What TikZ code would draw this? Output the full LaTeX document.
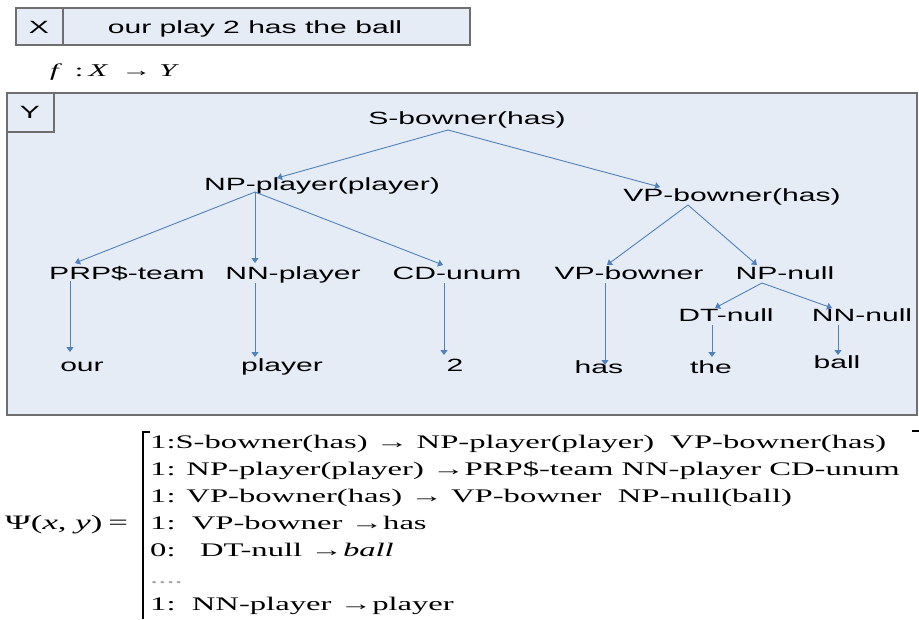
\documentclass[tikz,border=0pt]{standalone}
\usepackage{fontspec}
\setmainfont{Liberation Sans}
\newfontfamily\tnr{Liberation Serif}
\usepackage{graphicx}
\usetikzlibrary{arrows.meta}
\definecolor{boxfill}{HTML}{E6ECF6}
\definecolor{boxline}{HTML}{6E6E6E}
\definecolor{arr}{HTML}{4F81BD}
\newcommand\sx[1]{\scalebox{1.7}[1]{#1}}
\tikzset{
  lab/.style={inner sep=0pt, anchor=base, font=\fontsize{17.7}{20}\selectfont},
  edge/.style={draw=arr, line width=0.9pt, -{Triangle[length=5pt,width=7pt]}},
  rowt/.style={inner sep=0pt, anchor=base west, font=\fontsize{19.2}{22}\tnr},
  panel/.style={fill=boxfill, draw=boxline, line width=1.2pt}
}
\begin{document}
\begin{tikzpicture}[x=1pt,y=-1pt]
\useasboundingbox (0,0) rectangle (919,619);
% X box
\draw[panel] (16,8) rectangle (470,45);
\draw[boxline, line width=1.2pt] (63,8) -- (63,45);
\node[lab] (xl) at (39,33) {\sx{X}};
\node[lab] (xs) at (255,33) {\sx{our play 2 has the ball}};
% f : X -> Y
\node[inner sep=0pt, anchor=base west, font=\fontsize{18}{20}\tnr] (fmap) at (50,76) {\sx{\textit{f}\ \,:\,\textit{X}\ \,→\ \textit{Y}}};
% Y box
\draw[panel] (7,93) rectangle (917,415);
\draw[boxline, line width=1.2pt] (7,132) -- (54,132) -- (54,93);
\node[lab] (yl) at (30,118) {\sx{Y}};
% tree labels
\node[lab] (S) at (467,124) {\sx{S-bowner(has)}};
\node[lab] (NP) at (322,190) {\sx{NP-player(player)}};
\node[lab] (VP) at (732,201) {\sx{VP-bowner(has)}};
\node[lab] (PRP) at (127,279) {\sx{PRP\$-team}};
\node[lab] (NN) at (293,279) {\sx{NN-player}};
\node[lab] (CD) at (457,279) {\sx{CD-unum}};
\node[lab] (VPb) at (629,279) {\sx{VP-bowner}};
\node[lab] (NPn) at (785,279) {\sx{NP-null}};
\node[lab] (DT) at (726,321) {\sx{DT-null}};
\node[lab] (NNn) at (862,321) {\sx{NN-null}};
\node[lab] (our) at (82,371) {\sx{our}};
\node[lab] (player) at (282,371) {\sx{player}};
\node[lab] (two) at (455,371) {\sx{2}};
\node[lab] (has) at (599,373) {\sx{has}};
\node[lab] (the) at (711,373) {\sx{the}};
\node[lab] (ball) at (837,368) {\sx{ball}};
% connector end points
\coordinate (Sa) at (448,130);
\coordinate (NPt) at (277,178);
\coordinate (VPt) at (660,187);
\coordinate (NPa) at (255,192);
\coordinate (PRPt) at (75,263);
\coordinate (NNt) at (255,263);
\coordinate (CDt) at (443,265);
\coordinate (VPa) at (688,205);
\coordinate (VPbt) at (607,265);
\coordinate (NPnt) at (757,265);
\coordinate (PRPb) at (70,281);
\coordinate (ourt) at (70,352);
\coordinate (NNb) at (255,283);
\coordinate (playert) at (255,357);
\coordinate (CDb) at (444,283);
\coordinate (twot) at (444,355);
\coordinate (VPbb) at (605,283);
\coordinate (hast) at (605,365);
\coordinate (NPna) at (762,283);
\coordinate (DTt) at (715,308);
\coordinate (NNnt) at (832,308);
\coordinate (DTb) at (712,325);
\coordinate (thet) at (712,357);
\coordinate (NNnb) at (838,325);
\coordinate (ballt) at (838,355);
\draw[edge] (Sa) -- (NPt);
\draw[edge] (Sa) -- (VPt);
\draw[edge] (NPa) -- (PRPt);
\draw[edge] (NPa) -- (NNt);
\draw[edge] (NPa) -- (CDt);
\draw[edge] (VPa) -- (VPbt);
\draw[edge] (VPa) -- (NPnt);
\draw[edge] (PRPb) -- (ourt);
\draw[edge] (NNb) -- (playert);
\draw[edge] (CDb) -- (twot);
\draw[edge] (VPbb) -- (hast);
\draw[edge] (NPna) -- (DTt);
\draw[edge] (NPna) -- (NNnt);
\draw[edge] (DTb) -- (thet);
\draw[edge] (NNnb) -- (ballt);
% formula
\node[inner sep=0pt, anchor=base west, font=\fontsize{20.5}{22}\tnr] (psi) at (5,529) {\sx{Ψ(\textit{x}, \textit{y})\,=}};
\draw[line width=1.1pt] (150,432) -- (143,432) -- (143,619);
\draw[line width=1.1pt] (912,431) -- (919,431);
\node[rowt] (r1) at (150,448) {\sx{1:S-bowner(has) → NP-player(player)\ \ VP-bowner(has)}};
\node[rowt] (r2) at (150,475) {\sx{1: NP-player(player) →PRP\$-team NN-player CD-unum}};
\node[rowt] (r3) at (150,502) {\sx{1: VP-bowner(has) → VP-bowner\ \ NP-null(ball)}};
\node[rowt] (r4) at (150,529) {\sx{1:\ \ VP-bowner →has}};
\node[rowt] (r5) at (150,556) {\sx{0:\ \ \ DT-null →\textit{ball}}};
\node[rowt, text=gray!70] (r6) at (150,583) {\sx{....}};
\node[rowt] (r7) at (150,610) {\sx{1:\ \ NN-player →player}};
\end{tikzpicture}
\end{document}
